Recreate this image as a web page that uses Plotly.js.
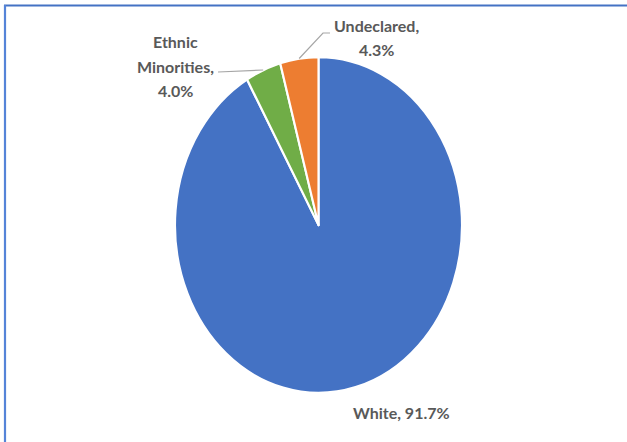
<!DOCTYPE html>
<html>
<head>
<meta charset="utf-8">
<script src="https://cdn.plot.ly/plotly-3.0.1.min.js"></script>
<style>
  html, body { margin: 0; padding: 0; background: #fff; }
  #chart { width: 627px; height: 442px; }
</style>
</head>
<body>
<div id="chart"></div>
<script>
// ---- data ----
const categories = ["White", "Ethnic Minorities", "Undeclared"];
const values = [91.7, 4.0, 4.3];
const colors = ["#4472C4", "#70AD47", "#ED7D31"];
// label lines as shown in the chart
const labelLines = [["White, 91.7%"], ["Ethnic", "Minorities,", "4.0%"], ["Undeclared,", "4.3%"]];

// ---- geometry (pixels) ----
const W = 627, H = 442;
const cx = 318.5, cy = 225, ry = 168, rx = 143.5;
const px = x => x / W;
const py = y => 1 - y / H;

// label placement (center of first line, line step)
const labelPos = [
  {x: 401.5, y: 412, step: 0},
  {x: 175.5, y: 41.5, step: 24.7},
  {x: 376.5, y: 25.5, step: 23.5}
];

const total = values.reduce((a, b) => a + b, 0);
function edgePoint(i) {
  let before = 0;
  for (let k = 0; k < i; k++) before += values[k];
  const mid = (before + values[i] / 2) / total * 2 * Math.PI;
  return {x: cx + rx * Math.sin(mid), y: cy - ry * Math.cos(mid)};
}

const annotations = [];
labelLines.forEach((lines, i) => {
  lines.forEach((t, j) => {
    annotations.push({
      xref: 'paper', yref: 'paper',
      x: px(labelPos[i].x), y: py(labelPos[i].y + j * labelPos[i].step),
      xanchor: 'center', yanchor: 'middle',
      text: '<b>' + t + '</b>', showarrow: false,
      font: {family: 'Lato, "Open Sans", sans-serif', size: 16, color: '#595959'}
    });
  });
});

// leader lines
const lineStyle = {color: '#A6A6A6', width: 1.2};
const pE = edgePoint(1), pU = edgePoint(2);
const shapes = [
  {type: 'path', xref: 'paper', yref: 'paper', line: lineStyle,
   path: `M${px(218)},${py(72)} L${px(pE.x)},${py(pE.y)}`},
  {type: 'path', xref: 'paper', yref: 'paper', line: lineStyle,
   path: `M${px(pU.x)},${py(pU.y)} L${px(323)},${py(33)} L${px(330)},${py(33)}`},
  // frame
  {type: 'line', xref: 'paper', yref: 'paper', x0: px(4), x1: 1, y0: py(5.5), y1: py(5.5),
   line: {color: '#4472C4', width: 2.2}},
  {type: 'line', xref: 'paper', yref: 'paper', x0: px(5), x1: px(5), y0: py(5), y1: 0,
   line: {color: '#5584D8', width: 2.2}}
];

const trace = {
  type: 'pie',
  labels: categories,
  values: values,
  sort: false,
  direction: 'clockwise',
  rotation: 0,
  marker: {colors: colors, line: {color: '#FFFFFF', width: 2.5}},
  textinfo: 'none',
  hoverinfo: 'none',
  showlegend: false,
  domain: {x: [px(cx - ry), px(cx + ry)], y: [py(cy + ry), py(cy - ry)]}
};

const layout = {
  width: W, height: H,
  margin: {l: 0, r: 0, t: 0, b: 0},
  paper_bgcolor: '#FFFFFF',
  showlegend: false,
  annotations: annotations,
  shapes: shapes
};

Plotly.newPlot('chart', [trace], layout, {displayModeBar: false, staticPlot: true}).then(gd => {
  // the reference pie is slightly taller than wide: squeeze horizontally about its centre
  const sx = rx / ry;
  const pl = gd.querySelector('.pielayer');
  if (pl) pl.setAttribute('transform', `translate(${cx},0) scale(${sx},1) translate(${-cx},0)`);
});
</script>
</body>
</html>
